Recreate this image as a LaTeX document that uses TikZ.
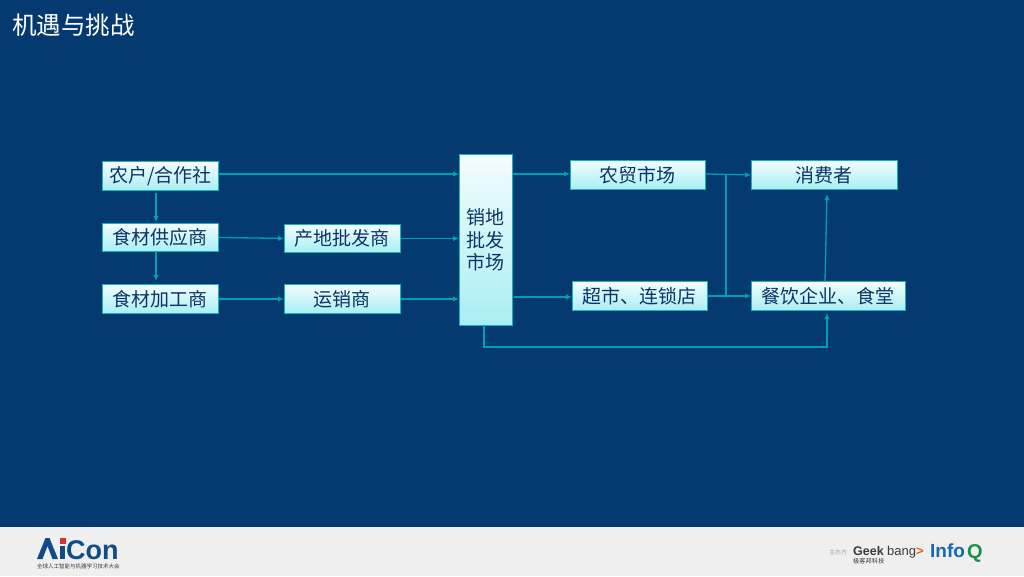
\documentclass[tikz,border=0pt]{standalone}
\usepackage{fontspec}
\setmainfont{Noto Sans CJK SC}
\newfontfamily\latinbold{Liberation Sans}[BoldFont={Liberation Sans Bold}]
\usetikzlibrary{arrows.meta}
\definecolor{bgblue}{HTML}{043A70}
\definecolor{boxedge}{HTML}{12B5BC}
\definecolor{boxtop}{HTML}{F4FDFE}
\definecolor{boxbot}{HTML}{A8EEF4}
\definecolor{linkcol}{HTML}{00A0AE}
\definecolor{inktext}{HTML}{0B3566}
\definecolor{footgray}{HTML}{EFEFEF}
\definecolor{aiblue}{HTML}{0F4C8A}
\definecolor{aired}{HTML}{D8303A}
\definecolor{infoblue}{HTML}{1467B8}
\definecolor{infogreen}{HTML}{17924A}
\definecolor{geekdark}{HTML}{3A3A3A}
\definecolor{geekorange}{HTML}{E8601C}
\tikzset{
  x=1pt,y=-1pt,
  flowbox/.style={draw=boxedge,line width=0.9pt,top color=boxtop,bottom color=boxbot,
    text=inktext,font=\fontsize{19}{23}\selectfont,inner sep=0pt,anchor=north west,align=center},
  link/.style={draw=linkcol,line width=1.3pt,-{Latex[length=6pt,width=5.5pt]}},
  plainlink/.style={draw=linkcol,line width=1.3pt},
}
\begin{document}
\begin{tikzpicture}
\useasboundingbox (0,0) rectangle (1024,576);
\fill[bgblue] (0,0) rectangle (1024,576);
\fill[footgray] (0,527) rectangle (1024,576);
\node[text=white,font=\fontsize{24.5}{28}\selectfont,anchor=west,inner sep=0pt] (title) at (12,25) {机遇与挑战};

\node[flowbox,minimum width=116pt,minimum height=29pt] (farmer) at (102,161) {农户/合作社};
\node[flowbox,minimum width=116pt,minimum height=28pt] (supply) at (102,223) {食材供应商};
\node[flowbox,minimum width=116pt,minimum height=29pt] (process) at (102,284) {食材加工商};
\node[flowbox,minimum width=116pt,minimum height=28pt] (origin) at (284,224) {产地批发商};
\node[flowbox,minimum width=116pt,minimum height=29pt] (trans) at (284,284) {运销商};
\node[flowbox,minimum width=53pt,minimum height=171pt,font=\fontsize{19}{22.5}\selectfont] (whole) at (459,154) {销地\\批发\\市场};
\node[flowbox,minimum width=135pt,minimum height=29pt] (market) at (570,160) {农贸市场};
\node[flowbox,minimum width=146pt,minimum height=29pt] (consumer) at (751,160) {消费者};
\node[flowbox,minimum width=135pt,minimum height=29pt] (super) at (572,281) {超市、连锁店};
\node[flowbox,minimum width=154pt,minimum height=29pt] (rest) at (751,281) {餐饮企业、食堂};

\coordinate (farmerout) at (218,174);
\coordinate (farmerdown) at (156,193);
\coordinate (supplyin) at (156,222);
\coordinate (supplydown) at (156,251);
\coordinate (procin) at (156,281);
\coordinate (busx) at (726,174);
\coordinate (busy) at (726,296);
\coordinate (consin) at (827,194);
\coordinate (restout) at (825,281);
\coordinate (restin) at (827,313);
\coordinate (wholeout) at (484,325);
\coordinate (low1) at (484,347);
\coordinate (low2) at (827,347);

\draw[link] (farmerout) -- (whole.west |- farmerout);
\draw[link] (farmerdown) -- (supplyin);
\draw[link] (supplydown) -- (procin);
\draw[link] (supply.east) -- (origin.west);
\draw[link] (process.east) -- (trans.west);
\draw[link] (origin.east) -- (whole.west |- origin.east);
\draw[link] (trans.east) -- (whole.west |- trans.east);
\draw[link] (whole.east |- market.west) ++(0,-1) -- ([yshift=1pt]market.west);
\draw[link] (whole.east |- super.west) ++(1,1) -- ([yshift=-1pt]super.west);
\draw[link] (market.east) ++(0,-1) -- (consumer.west);
\draw[link] (super.east) -- (rest.west);
\draw[plainlink] (busx) -- (busy);
\draw[link] (restout) -- (consin);
\draw[link] (wholeout) -- (low1) -- (low2) -- (restin);

% AiCon logo
\fill[aiblue] (37,559) -- (45.5,538) -- (49.5,538) -- (58,559) -- (52.5,559) -- (47.5,546) -- (42.5,559) -- cycle;
\fill[aired] (59.5,538) rectangle (65.5,544);
\fill[aiblue] (60,546) rectangle (65,559);
\node[text=aiblue,font=\latinbold\bfseries\fontsize{27}{27}\selectfont,anchor=base west,inner sep=0pt] (aicon) at (66,559) {Con};
\node[text=geekdark,font=\fontsize{5.5}{6}\selectfont,anchor=west,inner sep=0pt] (aisub) at (37,566) {全球人工智能与机器学习技术大会};

% sponsors
\node[text=gray!70,font=\fontsize{6}{7}\selectfont,anchor=west,inner sep=0pt] (host) at (829,552) {主办方};
\node[text=geekdark,font=\latinbold\bfseries\fontsize{12.5}{13}\selectfont,anchor=base west,inner sep=0pt] (geek) at (853,555) {Geek};
\node[text=geekdark,font=\latinbold\fontsize{13}{14}\selectfont,anchor=base west,inner sep=0pt] (bang) at (887,555) {bang};
\node[text=geekorange,font=\latinbold\bfseries\fontsize{13}{14}\selectfont,anchor=base west,inner sep=0pt] (gt) at (916,555) {>};
\node[text=geekdark,font=\fontsize{6.2}{7}\selectfont,anchor=west,inner sep=0pt] (geeksub) at (853,561.5) {极客邦科技};
\node[text=infoblue,font=\latinbold\bfseries\fontsize{19}{19}\selectfont,anchor=base west,inner sep=0pt] (info) at (930,557.5) {Info};
\node[text=infogreen,font=\latinbold\bfseries\fontsize{20}{20}\selectfont,anchor=base west,inner sep=0pt] (infoq) at (967,558) {Q};
\end{tikzpicture}
\end{document}
